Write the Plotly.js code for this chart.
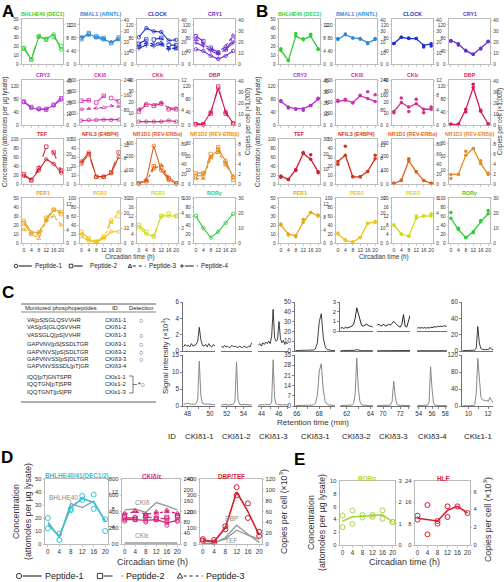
<!DOCTYPE html>
<html><head><meta charset="utf-8">
<script src="https://cdn.plot.ly/plotly-3.0.1.min.js"></script>
<style>body{margin:0;background:#fff}#g{width:504px;height:582px}</style>
</head><body><div id="g"></div>
<script>
// ---------------- DATA ----------------
const TIME=[0,4,8,12,16,20];
// Panel A: one line per peptide (attomoles per ug lysate)
const A_BHLHE40=[[18,5,30,28,33,16],[17,5,31,27,30,20]];
const A_BMAL1=[[80,92,82,76,66,77],[76,95,86,80,64,81],[84,88,80,74,68,74]];
const A_CLOCK=[[82,110,100,98,72,74],[62,75,75,80,58,58],[55,65,62,66,50,46],[48,58,55,60,45,50]];
const A_CRY1=[[45,40,25,15,25,40],[85,70,50,35,45,75],[75,63,45,36,55,88],[65,55,40,30,45,65]];
const A_CRY2=[[70,52,48,50,60,78],[72,55,50,47,62,82]];
const A_CKId=[[80,90,90,95,90,95],[430,440,400,520,480,420],[280,290,300,310,340,330]];
const A_CKIe=[[3,3,3,3,4,3],[12,18,17,19,14,14],[14,19,18,20,15,15]];
const A_DBP=[[3,3,40,112,40,5],[2,2,35,118,35,4]];
const A_TEF=[[18,10,30,55,45,25],[22,8,35,83,70,30]];
const A_NFIL3=[[25,35,8,8,12,30],[23,33,8,8,13,35]];
const A_NR1D1=[[5,30,280,100,30,5],[5,20,130,120,40,5],[5,25,110,140,50,8]];
const A_NR1D2=[[6,6,20,25,17,5],[8,8,22,27,15,3],[4,4,19,23,14,6]];
const A_PER1=[[25,12,12,25,37,35],[22,10,10,28,37,32],[15,10,5,25,30,20]];
const A_PER2=[[15,5,2,10,25,25],[25,10,3,15,50,60],[20,8,3,12,45,70]];
const A_PER3=[[7,4,3,12,12,12],[8,5,3,12,13,12]];
const A_RORg=[[60,33,12,25,45,65]];
// Panel B: mean line and a replicate
const B_BHLHE40=[15,4,31,27,31,17], B_BHLHE40_rep=[17,4,34,28,33,16];
const B_BMAL1=[75,90,80,78,65,75], B_BMAL1_rep=[78,92,80,76,62,78];
const B_CLOCK=[63,82,78,78,57,62], B_CLOCK_rep=[63,82,80,78,52,55];
const B_CRY1=[72,62,40,30,48,68], B_CRY1_rep=[70,58,42,30,46,70];
const B_CRY2=[72,55,50,50,60,80], B_CRY2_rep=[75,52,48,45,60,82];
const B_CKId=[420,440,400,520,470,420], B_CKId_rep=[440,460,390,530,590,540];
const B_CKIe=[12,20,16,19,14,14], B_CKIe_rep=[11,24,12,23,11,16];
const B_DBP=[2,2,48,115,42,3], B_DBP_rep=[2,2,40,125,45,3];
const B_TEF=[18,10,32,68,55,27], B_TEF_rep=[15,10,30,70,65,25];
const B_NFIL3=[25,32,8,8,14,28], B_NFIL3_rep=[22,42,8,8,14,32];
const B_NR1D1=[5,25,170,90,25,5], B_NR1D1_rep=[5,30,185,90,25,5];
const B_NR1D2=[7,7,21,26,15,7], B_NR1D2_rep=[4,7,24,26,17,8];
const B_PER1=[20,10,8,23,34,30], B_PER1_rep=[21,9,7,26,34,31];
const B_PER2=[20,6,2,12,44,46], B_PER2_rep=[22,7,2,12,44,48];
const B_PER3=[8,4,3,11,12,12], B_PER3_rep=[8,4,3,12,12,13];
const B_RORg=[55,30,12,25,47,65], B_RORg_rep=[68,33,12,23,50,72];
// Panel C: table
const C_peptides=['VA[pS]SGLQSVVHR','VAS[pS]GLQSVVHR','VASSGLQ[pS]VVHR','GAPVNV[pS]SSDLTGR','GAPVNVS[pS]SDLTGR','GAPVNVSS[pS]DLTGR','GAPVNVSSSDL[pT]GR','IQQ[pT]GNTSPR','IQQTGN[pT]SPR','IQQTGNT[pS]PR'];
const C_ids=['CKIδ1-1','CKIδ1-2','CKIδ1-3','CKIδ3-1','CKIδ3-2','CKIδ3-3','CKIδ3-4','CKIε1-1','CKIε1-2','CKIε1-3'];
const C_detect=['○','','○','○','○','○','','','',''];
// Panel C: chromatograms (signal x10^3)
const CH_ids=['CKIδ1-1','CKIδ1-2','CKIδ1-3','CKIδ3-1','CKIδ3-2','CKIδ3-3','CKIδ3-4','CKIε1-1'];
const CH_t0=[47.65,51.35,43.65,65.9,61.5,69.35,53.8,9.4];
const CH_dt=[0.14,0.18,0.17,0.175,0.135,0.19,0.22,0.155];
const CH_top=[
 [0.5,0.8,0.6,0.7,0.5,0.9,0.6,0.7,0.8,1.2,2.9,1.4,0.7,0.6,0.8,0.5,0.9,0.6,0.5,0.8,0.6],
 [0.6,0.4,0.7,0.5,0.6,0.4,0.5,0.7,0.5,0.6,0.5,0.4,0.6,0.5,0.4,0.6,0.5,0.4,0.6,0.5,1.0],
 [0.7,0.9,0.6,1.0,0.8,1.1,0.9,1.2,0.9,1.8,5.1,1.6,1.2,1.4,3.6,1.5,1.0,1.3,0.8,1.0,0.9],
 [0.5,0.5,0.4,0.5,0.4,0.5,0.5,0.6,0.7,1.0,2.0,8,30,38,14,4,1.5,0.8,0.6,0.5,0.5],
 [0.3,0.3,0.3,0.3,0.3,0.3,0.35,0.4,0.5,0.8,1.4,0.8,0.5,0.4,0.35,0.3,0.3,0.3,0.3,0.3,0.3],
 [0.3,0.3,0.3,0.3,0.3,0.3,0.3,0.3,0.3,0.4,0.5,0.4,0.3,0.3,0.3,0.3,0.6,0.3,0.3,0.4,0.5],
 [0.3,0.3,0.3,0.3,0.3,0.3,0.3,0.3,0.3,0.3,0.3,0.3,0.3,0.3,0.3,0.3,0.3,0.3,0.3,0.3,0.3],
 [0.4,0.4,0.4,0.4,0.4,0.5,0.5,0.6,1,4,30,10,3,2,1.5,1.5,2,1.5,4.5,2,1.5]];
const CH_bot=[
 [0.5,0.6,0.5,0.8,0.6,0.5,0.6,0.5,0.7,2.0,13.2,3.0,0.8,0.6,0.5,0.6,0.5,0.6,0.5,0.4,0.5],
 [0.3,0.4,0.3,0.5,0.3,0.4,0.3,0.4,0.5,1.5,13.0,2.0,0.5,0.4,0.3,0.5,0.4,0.3,0.4,0.3,0.4],
 [0.3,0.4,0.3,0.4,0.3,0.5,0.4,0.3,0.4,1.2,13.6,2.5,0.6,0.5,0.4,0.5,0.3,0.4,0.3,0.4,0.3],
 [0.3,0.3,0.3,0.3,0.3,0.4,0.4,0.5,0.6,0.9,1.8,7,24,29,11,3,1.2,0.6,0.4,0.4,0.4],
 [0.3,0.3,0.3,0.3,0.3,0.4,0.5,0.7,1.5,8,33,12,3,1,0.6,0.4,0.3,0.3,0.3,0.3,0.3],
 [0.3,0.3,0.3,0.3,0.3,0.3,0.3,0.4,0.6,3,17,6,1,0.5,0.4,0.3,0.3,0.3,0.3,0.3,0.3],
 [0.3,0.3,0.3,0.3,0.3,0.3,0.4,0.6,3,27,12,2,0.6,0.4,0.3,0.3,0.3,0.3,0.3,0.3,0.3],
 [0.5,0.5,0.5,0.5,0.5,0.6,0.7,1,3,30,112,60,22,15,14,12,13,11,20,12,8]];
const CH_inset=[
 [0.3,0.35,0.25,0.4,0.3,0.35,0.4,0.5,0.7,1.3,2.4,1.7,1.0,0.6,0.5,0.6,0.7,0.6,0.5,0.5,0.4],
 [0.6,0.7,0.5,0.6,0.7,0.5,0.6,0.7,0.6,0.8,1.0,0.8,0.6,0.5,0.4,0.7,1.7,0.5,0.4,0.9,1.6],
 [0.3,0.35,0.3,0.35,0.3,0.35,0.3,0.35,0.3,0.4,0.35,0.4,0.45,0.4,0.5,0.45,0.5,0.45,0.55,0.5,0.5]];
// Panel D
const D_BHLHE_mean=[15,6,28,35,32,18], D_BHLHE_rep1=[20,8,26,37,38,19], D_BHLHE_rep2=[12,3,27,34,27,10];
const D_BHLHE40_ref=[17,5,31,28,33,17];
const D_CKI=[[300,300,290,300,260,290],[320,320,330,320,310,330],[370,400,370,380,400,380]];
const D_CKI_rep=[[280,330,270,320,230,280],[340,300,350,300,330,350],[380,410,360,400,420,360]];
const D_CKId_ref=[420,430,390,510,470,420], D_CKIe_ref=[12,12,12,12,15,12];
const D_DBPTEF=[25,15,100,320,200,55], D_DBPTEF_rep1=[30,25,110,350,250,75], D_DBPTEF_rep2=[20,10,90,300,160,50];
const D_DBP_ref=[5,3,40,115,60,10], D_TEF_ref=[20,10,30,85,55,30];
// Panel E
const E_RORa=[3.7,4.4,4.5,4.6,4.7,3.6], E_RORa_rep1=[4.6,5.4,4.7,4.7,5.4,3.6], E_RORa_rep2=[2.8,3.3,4.3,4.4,4.1,3.6];
const E_HLF_t=[0,8,12,16,20], E_HLF=[10,9,13,14.5,12];
const E_HLF_pt_t=[0,0,4,4,8,8,12,12,16,20], E_HLF_pt=[11,9.5,15,4,8,9,14.5,10.5,14.5,12];
const PEP_NAMES=['Peptide-1','Peptide-2','Peptide-3','Peptide-4'];

// ---------------- LAYOUT HELPERS ----------------
const W=504,H=582;
const FX=p=>p/W, FY=p=>1-p/H;
const FONT='Liberation Sans, Arial, sans-serif';
const layout={width:W,height:H,margin:{l:0,r:0,t:0,b:0},paper_bgcolor:'#fff',plot_bgcolor:'rgba(0,0,0,0)',
 font:{family:FONT,size:7,color:'#333'},showlegend:false,hovermode:false,annotations:[],shapes:[]};
const traces=[];
let nx=0,ny=0;
const sfx=n=>n===1?'':String(n);
function panel(o){
 nx++;ny++;const xs=sfx(nx),ys=sfx(ny);const xid='x'+xs,yid='y'+ys;
 const lc=o.lc||'#aaa', fs=o.fs||4.7, lw=o.lw||0.8, tl=o.tl||1.6;
 layout['xaxis'+xs]={domain:[FX(o.x0),FX(o.x1)],anchor:yid,range:o.xr,showline:true,linecolor:lc,linewidth:lw,mirror:!!o.mirror,
  ticks:o.noxt?'':'outside',ticklen:2,tickwidth:0.6,tickcolor:lc,tickvals:o.xt||[],ticktext:o.xtt,showticklabels:!!o.xlab,tickangle:0,
  tickfont:{size:o.xfs||fs,color:'#333'},showgrid:false,zeroline:false,fixedrange:true};
 layout['yaxis'+ys]={domain:[FY(o.y1),FY(o.y0)],anchor:xid,range:o.yr,visible:o.yvis!==false,showline:true,linecolor:lc,linewidth:lw,
  ticks:'outside',ticklen:tl,tickwidth:0.6,tickcolor:lc,tickvals:o.yt,tickfont:{size:fs,color:'#333'},showgrid:false,zeroline:false,fixedrange:true};
 if(o.yr2){ny++;const y2s=sfx(ny);
  layout['yaxis'+y2s]={overlaying:yid,side:'right',anchor:xid,range:o.yr2,showline:true,linecolor:lc,linewidth:lw,ticks:'outside',ticklen:tl,tickwidth:0.6,
   tickcolor:lc,tickvals:o.y2t,tickfont:{size:fs,color:'#333'},showgrid:false,zeroline:false,fixedrange:true};
  traces.push({x:[null],y:[null],xaxis:xid,yaxis:'y'+y2s,mode:'lines',showlegend:false,hoverinfo:'skip'});
 }
 return {x:xid,y:yid};
}
function ann(text,x,y,o){layout.annotations.push(Object.assign({text:text,x:FX(x),y:FY(y),xref:'paper',yref:'paper',showarrow:false,
 font:{family:FONT,size:7,color:'#333'},xanchor:'center',yanchor:'middle'},o||{}));}
function line(x0,y0,x1,y1,c,w,d){layout.shapes.push({type:'line',xref:'paper',yref:'paper',x0:FX(x0),y0:FY(y0),x1:FX(x1),y1:FY(y1),line:{color:c||'#333',width:w||0.8,dash:d||'solid'}});}
function P(x,y){return FX(x)+','+FY(y);}
// legend key: marker glyph at mx, then line, then text
function legendKey(name,k,mx,y,r,len,fs){
 const st={xref:'paper',yref:'paper',line:{color:'#222',width:0.9},fillcolor:'rgba(0,0,0,0)'};
 if(k===0) layout.shapes.push(Object.assign({type:'circle',x0:FX(mx-r),x1:FX(mx+r),y0:FY(y+r),y1:FY(y-r)},st));
 if(k===1) layout.shapes.push(Object.assign({type:'rect',x0:FX(mx-r),x1:FX(mx+r),y0:FY(y+r),y1:FY(y-r)},st));
 if(k===2) layout.shapes.push(Object.assign({type:'path',path:'M'+P(mx-r,y+r*0.8)+' L'+P(mx+r,y+r*0.8)+' L'+P(mx,y-r*1.1)+' Z'},st));
 if(k===3) layout.shapes.push(Object.assign({type:'path',path:'M'+P(mx-r,y)+' L'+P(mx+r,y)+' M'+P(mx,y-r)+' L'+P(mx,y+r)},st));
 line(mx+r+1,y,mx+r+1+len,y,'#222',1.1,PEP[k].dash);
 ann(name,mx+r+2+len,y,{xanchor:'left',font:{family:FONT,size:fs,color:'#222'}});
}

// ---------------- STYLES ----------------
const PEP=[{dash:'solid',sym:'circle-open'},{dash:'dash',sym:'square-open'},{dash:'dot',sym:'triangle-up-open'},{dash:'dashdot',sym:'cross-thin-open'}];
const Y138={yr:[0,138],yt:[0,40,80,120],yr2:[0,41.5],y2t:[0,10,20,30,40]};
const PROT=[
 Object.assign({t:'BHLHE40 (DEC1)',c:'#33cc33'},{yr:[0,50],yt:[0,10,20,30,40,50],yr2:[0,13.8],y2t:[0,4,8,12]}),
 Object.assign({t:'BMAL1 (ARNTL)',c:'#2b8ad8'},Y138),
 Object.assign({t:'CLOCK',c:'#1f2fc8'},Y138),
 Object.assign({t:'CRY1',c:'#6a2bd0'},Y138),
 Object.assign({t:'CRY2',c:'#b22fd0'},Y138),
 {t:'CKIδ',c:'#d22fb4',yr:[0,800],yt:[0,200,400,600,800],yr2:[0,240],y2t:[0,80,160,240]},
 {t:'CKIε',c:'#d42f86',yr:[0,40],yt:[0,10,20,30,40],yr2:[0,12],y2t:[0,4,8,12]},
 Object.assign({t:'DBP',c:'#d41c56'},Y138),
 {t:'TEF',c:'#d21f35',yr:[0,100],yt:[0,20,40,60,80,100],yr2:[0,30],y2t:[0,10,20,30]},
 {t:'NFIL3 (E4BP4)',c:'#d4361e',yr:[0,50],yt:[0,10,20,30,40,50],yr2:[0,14],y2t:[0,4,8,12]},
 {t:'NR1D1 (REV-ERBα)',c:'#e2621a',yr:[0,330],yt:[0,100,200,300],yr2:[0,90],y2t:[0,20,40,60,80]},
 {t:'NR1D2 (REV-ERBβ)',c:'#e58d22',yr:[0,33],yt:[0,10,20,30],yr2:[0,9],y2t:[0,2,4,6,8]},
 {t:'PER1',c:'#e8a61e',yr:[0,50],yt:[0,10,20,30,40,50],yr2:[0,14],y2t:[0,4,8,12]},
 {t:'PER2',c:'#eec41e',yr:[0,100],yt:[0,20,40,60,80,100],yr2:[0,30],y2t:[0,10,20,30]},
 {t:'PER3',c:'#d2da1e',yr:[0,20],yt:[0,4,8,12,16,20],yr2:[0,6],y2t:[0,2,4,6]},
 {t:'RORγ',c:'#2ecc3a',yr:[0,100],yt:[0,20,40,60,80,100],yr2:[0,30],y2t:[0,10,20,30]}];
const A_SERIES=[A_BHLHE40,A_BMAL1,A_CLOCK,A_CRY1,A_CRY2,A_CKId,A_CKIe,A_DBP,A_TEF,A_NFIL3,A_NR1D1,A_NR1D2,A_PER1,A_PER2,A_PER3,A_RORg];
const B_SERIES=[[B_BHLHE40,B_BHLHE40_rep],[B_BMAL1,B_BMAL1_rep],[B_CLOCK,B_CLOCK_rep],[B_CRY1,B_CRY1_rep],[B_CRY2,B_CRY2_rep],[B_CKId,B_CKId_rep],[B_CKIe,B_CKIe_rep],[B_DBP,B_DBP_rep],
 [B_TEF,B_TEF_rep],[B_NFIL3,B_NFIL3_rep],[B_NR1D1,B_NR1D1_rep],[B_NR1D2,B_NR1D2_rep],[B_PER1,B_PER1_rep],[B_PER2,B_PER2_rep],[B_PER3,B_PER3_rep],[B_RORg,B_RORg_rep]];
const A_COLX=[22,79.5,137,194], B_COLX=[279,336,392,449], ROW_Y=[19,80,139,198], PW=41, PH=45;

// ---------------- PANELS A & B ----------------
for(let i=0;i<16;i++){
 const r=Math.floor(i/4),c=i%4,p=PROT[i];
 const common={y0:ROW_Y[r],y1:ROW_Y[r]+PH,xr:[-1,21],xt:TIME,xlab:r===3,xfs:5,yr:p.yr,yt:p.yt,yr2:p.yr2,y2t:p.y2t,mirror:true};
 const a=panel(Object.assign({x0:A_COLX[c],x1:A_COLX[c]+PW},common));
 A_SERIES[i].forEach((v,j)=>traces.push({x:TIME,y:v,xaxis:a.x,yaxis:a.y,mode:'lines+markers',showlegend:false,cliponaxis:false,
  line:{color:p.c,width:1.1,dash:PEP[j].dash},marker:{symbol:PEP[j].sym,size:3.5,color:p.c,line:{width:0.8,color:p.c}}}));
 ann('<b>'+p.t+'</b>',A_COLX[c]+PW/2,ROW_Y[r]-5,{font:{family:FONT,size:5.3,color:p.c}});
 const b=panel(Object.assign({x0:B_COLX[c],x1:B_COLX[c]+PW},common));
 traces.push({x:TIME,y:B_SERIES[i][1],xaxis:b.x,yaxis:b.y,mode:'markers',showlegend:false,cliponaxis:false,marker:{size:3.5,color:p.c}});
 traces.push({x:TIME,y:B_SERIES[i][0],xaxis:b.x,yaxis:b.y,mode:'lines+markers',showlegend:false,cliponaxis:false,line:{color:p.c,width:1.3},marker:{size:3.5,color:p.c}});
 ann('<b>'+p.t+'</b>',B_COLX[c]+PW/2,ROW_Y[r]-5,{font:{family:FONT,size:5.3,color:p.c}});
}
ann('Concentration (attomoles per μg lysate)',5,132,{textangle:-90,font:{family:FONT,size:6.3,color:'#333'}});
ann('Copies per cell (×1,000)',248,122,{textangle:-90,font:{family:FONT,size:6.3,color:'#333'}});
ann('Concentration (attomoles per μg lysate)',258,132,{textangle:-90,font:{family:FONT,size:6.3,color:'#333'}});
ann('Copies per cell (×1,000)',500,122,{textangle:-90,font:{family:FONT,size:6.3,color:'#333'}});
ann('Circadian time (h)',130,257,{font:{family:FONT,size:6.3,color:'#333'}});
ann('Circadian time (h)',384,257,{font:{family:FONT,size:6.3,color:'#333'}});
const A_LEGX=[16,71,130,182];
PEP.forEach((s,j)=>legendKey(PEP_NAMES[j],j,A_LEGX[j],266,1.8,13,6.3));

// ---------------- PANEL C ----------------
line(21,304,156,304,'#333',0.8);line(21,312,156,312,'#333',0.6);line(21,402,156,402,'#333',0.8);
const TF={family:FONT,size:5.8,color:'#222'};
ann('Monitored phosphopeptides',23,308,{xanchor:'left',font:TF});
ann('ID',115,308,{font:TF});ann('Detection',141,308,{font:TF});
const C_rowY=[320,327,335,344,352,359,366,377,384,392];
C_peptides.forEach((s,i)=>{ann(s,25,C_rowY[i],{xanchor:'left',font:TF});ann(C_ids[i],103,C_rowY[i],{xanchor:'left',font:TF});
 if(C_detect[i])ann(C_detect[i],141,C_rowY[i],{font:{family:FONT,size:7,color:'#222'}});});
layout.shapes.push({type:'path',xref:'paper',yref:'paper',path:'M'+FX(129)+','+FY(376)+' H'+FX(133)+' V'+FY(393)+' H'+FX(129)+' M'+FX(133)+','+FY(384.5)+' H'+FX(137),line:{color:'#222',width:0.6}});
ann('*○',141,384,{font:{family:FONT,size:7,color:'#222'}});

const CH_px=[[183,215],[221,252],[258,288],[295,335],[340,373],[377,410],[417,447],[462,493]];
const CH_xr=[[47.6,50.45],[51.3,55.0],[43.6,47.07],[65.85,69.39],[61.44,64.22],[69.3,73.15],[53.74,58.25],[9.34,12.5]];
const CH_ticks=[[48,49,50],[52,53,54],[44,45,46,47],[66,67,68,69],[62,63,64],[70,71,72,73],[54,55,56,57,58],[10,11,12]];
const CH_grp=[0,0,0,1,1,1,1,2];
const TOP_Y=[{yr:[0,6],yt:[0,2,4,6]},{yr:[0,50],yt:[0,10,20,30,40,50]},{yr:[0,60],yt:[0,20,40,60]}];
const BOT_Y=[{yr:[0,15],yt:[0,5,10,15]},{yr:[0,35],yt:[0,7,14,21,28,35]},{yr:[0,120],yt:[0,40,80,120]}];
const first=[0,3,7];
for(let i=0;i<8;i++){
 const g=CH_grp[i],show=first.includes(i);
 const tt=CH_ticks[i].map(v=>v%2===0?String(v):' ');
 const t=panel({x0:CH_px[i][0],x1:CH_px[i][1],y0:302,y1:351,xr:CH_xr[i],noxt:true,yr:TOP_Y[g].yr,yt:TOP_Y[g].yt,yvis:show,lc:'#333',fs:6.3,lw:0.7,tl:2});
 traces.push({x0:CH_t0[i],dx:CH_dt[i],y:CH_top[i],xaxis:t.x,yaxis:t.y,mode:'lines',showlegend:false,line:{color:'#111',width:0.8}});
 const b=panel({x0:CH_px[i][0],x1:CH_px[i][1],y0:355,y1:406,xr:CH_xr[i],xt:CH_ticks[i],xtt:tt,xlab:true,yr:BOT_Y[g].yr,yt:BOT_Y[g].yt,yvis:show,lc:'#333',fs:6.3,lw:0.7,tl:2});
 traces.push({x0:CH_t0[i],dx:CH_dt[i],y:CH_bot[i],xaxis:b.x,yaxis:b.y,mode:'lines',showlegend:false,line:{color:'#888',width:1}});
 ann(CH_ids[i],(CH_px[i][0]+CH_px[i][1])/2,436,{font:{family:FONT,size:7.8,color:'#222'}});
}
for(let k=0;k<3;k++){
 const i=4+k;
 const s=panel({x0:CH_px[i][0],x1:CH_px[i][1],y0:302,y1:331,xr:CH_xr[i],noxt:true,yr:[0,3],yt:[0,1,2,3],yvis:k===0,lc:'#333',fs:6,lw:0.7,tl:2});
 traces.push({x0:CH_t0[i],dx:CH_dt[i],y:CH_inset[k],xaxis:s.x,yaxis:s.y,mode:'lines',showlegend:false,line:{color:'#111',width:0.9}});
}
ann('ID',172,436,{font:{family:FONT,size:7.8,color:'#222'}});
ann('Retention time (min)',313,422,{font:{family:FONT,size:8,color:'#333'}});
ann('Signal intensity (×10<sup>3</sup>)',165,356,{textangle:-90,font:{family:FONT,size:7.8,color:'#333'}});

// ---------------- PANEL D ----------------
const DF=5.8;
const d1=panel({x0:45,x1:108,y0:479,y1:544,xr:[-1,21],xt:TIME,xlab:true,yr:[0,50],yt:[0,10,20,30,40,50],yr2:[0,15],y2t:[0,4,8,12],mirror:true,fs:DF,xfs:6.3,tl:1.5});
traces.push({x:TIME,y:D_BHLHE40_ref,xaxis:d1.x,yaxis:d1.y,mode:'lines',showlegend:false,line:{color:'#999',width:1.4}});
traces.push({x:TIME.concat(TIME),y:D_BHLHE_rep1.concat(D_BHLHE_rep2),xaxis:d1.x,yaxis:d1.y,mode:'markers',showlegend:false,cliponaxis:false,marker:{symbol:'circle-open',size:5,color:'#35c3d6',line:{width:1}}});
traces.push({x:TIME,y:D_BHLHE_mean,xaxis:d1.x,yaxis:d1.y,mode:'lines',showlegend:false,line:{color:'#35c3d6',width:1.6}});
ann('<b>BHLHE40/41(DEC1/2)</b>',77,476,{font:{family:FONT,size:6.3,color:'#35c3d6'}});
ann('BHLHE40',63,497,{font:{family:FONT,size:6.5,color:'#888'}});
line(70,500,72,505,'#888',0.7,'dot');

const d2=panel({x0:122,x1:180,y0:479,y1:544,xr:[-1,21],xt:TIME,xlab:true,yr:[0,800],yt:[0,200,400,600,800],yr2:[0,240],y2t:[0,40,80,120,160,200,240],mirror:true,fs:DF,xfs:6.3,tl:1.5});
traces.push({x:TIME,y:D_CKId_ref,xaxis:d2.x,yaxis:d2.y,mode:'lines',showlegend:false,line:{color:'#999',width:1.4}});
traces.push({x:TIME,y:D_CKIe_ref,xaxis:d2.x,yaxis:d2.y,mode:'lines',showlegend:false,line:{color:'#999',width:1.4}});
D_CKI.forEach((v,j)=>{
 traces.push({x:TIME,y:D_CKI_rep[j],xaxis:d2.x,yaxis:d2.y,mode:'markers',showlegend:false,cliponaxis:false,marker:{symbol:PEP[j].sym,size:4,color:'#d6247a',line:{width:0.9}}});
 traces.push({x:TIME,y:v,xaxis:d2.x,yaxis:d2.y,mode:'lines+markers',showlegend:false,line:{color:'#d6247a',width:1.3,dash:PEP[j].dash},marker:{symbol:PEP[j].sym,size:4,color:'#d6247a',line:{width:0.9}}});});
ann('<b>CKIδ/ε</b>',151,476,{font:{family:FONT,size:6.3,color:'#d6247a'}});
ann('CKIδ',142,502,{font:{family:FONT,size:6.5,color:'#888'}});
ann('CKIε',142,535,{font:{family:FONT,size:6.5,color:'#888'}});

const d3=panel({x0:200,x1:262,y0:479,y1:544,xr:[-1,21],xt:TIME,xlab:true,yr:[0,400],yt:[0,100,200,300,400],yr2:[0,120],y2t:[0,20,40,60,80,100,120],mirror:true,fs:DF,xfs:6.3,tl:1.5});
traces.push({x:TIME,y:D_DBP_ref,xaxis:d3.x,yaxis:d3.y,mode:'lines',showlegend:false,line:{color:'#999',width:1.4}});
traces.push({x:TIME,y:D_TEF_ref,xaxis:d3.x,yaxis:d3.y,mode:'lines',showlegend:false,line:{color:'#999',width:1.4}});
traces.push({x:TIME.concat(TIME),y:D_DBPTEF_rep1.concat(D_DBPTEF_rep2),xaxis:d3.x,yaxis:d3.y,mode:'markers',showlegend:false,cliponaxis:false,marker:{symbol:'circle-open',size:5,color:'#d41e30',line:{width:1}}});
traces.push({x:TIME,y:D_DBPTEF,xaxis:d3.x,yaxis:d3.y,mode:'lines',showlegend:false,line:{color:'#d41e30',width:1.6}});
ann('<b>DBP/TEF</b>',231,476,{font:{family:FONT,size:6.3,color:'#d41e30'}});
ann('DBP',231,518,{font:{family:FONT,size:6.5,color:'#888'}});
ann('TEF',231,540,{font:{family:FONT,size:6.5,color:'#888'}});

ann('Concentration',16,512,{textangle:-90,font:{family:FONT,size:8.8,color:'#333'}});
ann('(attomoles per μg lysate)',28,512,{textangle:-90,font:{family:FONT,size:8.8,color:'#333'}});
ann('Copies per cell (×10<sup>3</sup>)',283,512,{textangle:-90,font:{family:FONT,size:8.8,color:'#333'}});
ann('Circadian time (h)',152,562,{font:{family:FONT,size:9,color:'#333'}});
const D_LEGX=[19,100,180];
PEP.slice(0,3).forEach((s,j)=>legendKey(PEP_NAMES[j],j,D_LEGX[j],576,2.6,19,9));

// ---------------- PANEL E ----------------
const e1=panel({x0:340,x1:395,y0:481,y1:545,xr:[-1,21],xt:TIME,xlab:true,yr:[0,10],yt:[0,2,4,6,8,10],yr2:[0,3],y2t:[0,1,2,3],mirror:true,fs:DF,xfs:6.3,tl:1.5});
traces.push({x:TIME.concat(TIME),y:E_RORa_rep1.concat(E_RORa_rep2),xaxis:e1.x,yaxis:e1.y,mode:'markers',showlegend:false,cliponaxis:false,marker:{symbol:'circle-open',size:5,color:'#a6d63c',line:{width:1}}});
traces.push({x:TIME,y:E_RORa,xaxis:e1.x,yaxis:e1.y,mode:'lines',showlegend:false,line:{color:'#a6d63c',width:1.6}});
ann('<b>RORα</b>',367,478,{font:{family:FONT,size:6.3,color:'#a6d63c'}});
const e2=panel({x0:415,x1:470,y0:481,y1:545,xr:[-1,21],xt:TIME,xlab:true,yr:[0,24],yt:[0,8,16,24],yr2:[0,7.2],y2t:[0,2,4,6],mirror:true,fs:DF,xfs:6.3,tl:1.5});
traces.push({x:E_HLF_pt_t,y:E_HLF_pt,xaxis:e2.x,yaxis:e2.y,mode:'markers',showlegend:false,cliponaxis:false,marker:{symbol:'circle-open',size:5,color:'#d41e30',line:{width:1}}});
traces.push({x:E_HLF_t,y:E_HLF,xaxis:e2.x,yaxis:e2.y,mode:'lines',showlegend:false,line:{color:'#d41e30',width:1.6}});
ann('<b>HLF</b>',443,478,{font:{family:FONT,size:6.3,color:'#d41e30'}});
ann('Concentration',311,523,{textangle:-90,font:{family:FONT,size:8.8,color:'#333'}});
ann('(attomoles per μg lysate)',322,523,{textangle:-90,font:{family:FONT,size:8.8,color:'#333'}});
ann('Copies per cell (×10<sup>3</sup>)',487,520,{textangle:-90,font:{family:FONT,size:8.8,color:'#333'}});
ann('Circadian time (h)',404,562,{font:{family:FONT,size:9,color:'#333'}});

// ---------------- PANEL LETTERS ----------------
const LF={family:FONT,size:17,color:'#000'};
ann('<b>A</b>',8,11,{font:LF});ann('<b>B</b>',262,11,{font:LF});ann('<b>C</b>',8,292,{font:LF});
ann('<b>D</b>',7,457,{font:LF});ann('<b>E</b>',299,459,{font:LF});

Plotly.newPlot('g',traces,layout,{staticPlot:true,displayModeBar:false});
</script></body></html>
